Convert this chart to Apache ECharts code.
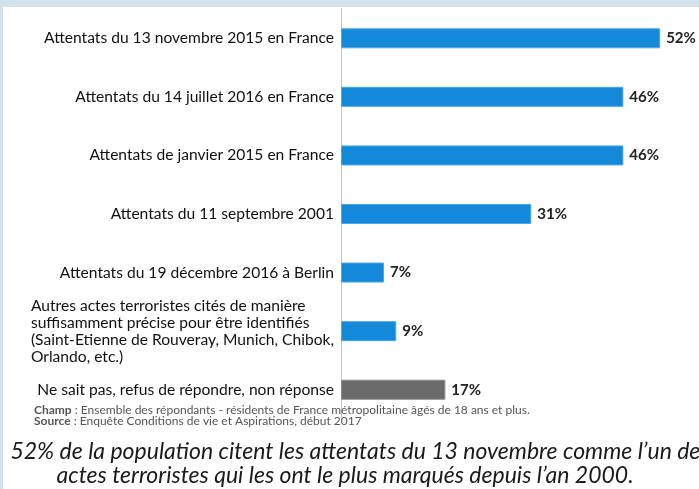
<!DOCTYPE html>
<html><head><meta charset="utf-8">
<script src="https://cdn.jsdelivr.net/npm/echarts@6/dist/echarts.min.js"></script>
<style>html,body{margin:0;padding:0;background:#fff}#c{width:699px;height:489px}</style>
</head><body><div id="c"></div>
<script>
var categories = [
  "Attentats du 13 novembre 2015 en France",
  "Attentats du 14 juillet 2016 en France",
  "Attentats de janvier 2015 en France",
  "Attentats du 11 septembre 2001",
  "Attentats du 19 décembre 2016 à Berlin",
  "Autres actes terroristes cités de manière\nsuffisamment précise pour être identifiés\n(Saint-Etienne de Rouveray, Munich, Chibok,\nOrlando, etc.)",
  "Ne sait pas, refus de répondre, non réponse"
];
var values = [52, 46, 46, 31, 7, 9, 17];
var isOther = [false, false, false, false, false, false, true];
var noteChamp = "Ensemble des répondants - résidents de France métropolitaine âgés de 18 ans et plus.";
var noteSource = "Enquête Conditions de vie et Aspirations, début 2017";
var caption1 = "52% de la population citent les attentats du 13 novembre comme l\u2019un des";
var caption2 = "actes terroristes qui les ont le plus marqués depuis l\u2019an 2000.";

var FONT = "Lato";
var chart = echarts.init(document.getElementById('c'), null, {renderer: 'canvas'});
var data = values.map(function (v, i) {
  return {value: v, itemStyle: {color: isOther[i] ? '#6b6b6b' : '#1589d9', borderColor: isOther[i] ? '#8a8a8a' : '#4aa6e6', borderWidth: 1}};
});
chart.setOption({
  animation: false,
  backgroundColor: '#ffffff',
  graphic: [
    {type: 'rect', shape: {x: 0, y: 0, width: 699, height: 7}, style: {fill: '#d2e1eb'}, z: 10},
    {type: 'rect', shape: {x: 0, y: 0, width: 3, height: 489}, style: {fill: '#d2e1eb'}, z: 10},
    {type: 'text', left: 34, top: 404, z: 20, style: {
      text: '{b|Champ} : ' + noteChamp + '\n{b|Source} : ' + noteSource,
      font: '12px ' + FONT, fill: '#555', lineHeight: 11.5,
      rich: {b: {fontWeight: 'bold', fontFamily: FONT, fontSize: 12, fill: '#555', lineHeight: 11.5}}
    }},
    {type: 'text', x: 360, y: 440, z: 20, style: {
      text: caption1, font: 'italic 23px ' + FONT, fill: '#1a1a1a', textAlign: 'center'
    }},
    {type: 'text', x: 345, y: 464, z: 20, style: {
      text: caption2, font: 'italic 23px ' + FONT, fill: '#1a1a1a', textAlign: 'center'
    }}
  ],
  grid: {left: 341, right: 2, top: 9, bottom: 70, containLabel: false},
  xAxis: {type: 'value', min: 0, max: 58, show: false},
  yAxis: {
    type: 'category', data: categories, inverse: true,
    axisLine: {show: true, lineStyle: {color: '#c4c4c4', width: 1}},
    axisTick: {show: false},
    axisLabel: {
      margin: 7, color: '#111', fontFamily: FONT, fontSize: 15.6,
      formatter: function (v) {
        if (v.indexOf('\n') >= 0) {
          return v.split('\n').map(function (l) { return '{l|' + l + '}'; }).join('\n');
        }
        return v;
      },
      rich: {l: {align: 'left', fontFamily: FONT, fontSize: 15.6, color: '#111', lineHeight: 17}}
    }
  },
  series: [{
    type: 'bar', data: data, barWidth: 20,
    label: {show: true, position: 'right', distance: 6, formatter: '{c}%', color: '#222', fontFamily: FONT, fontWeight: 'bold', fontSize: 15}
  }]
});
</script></body></html>
